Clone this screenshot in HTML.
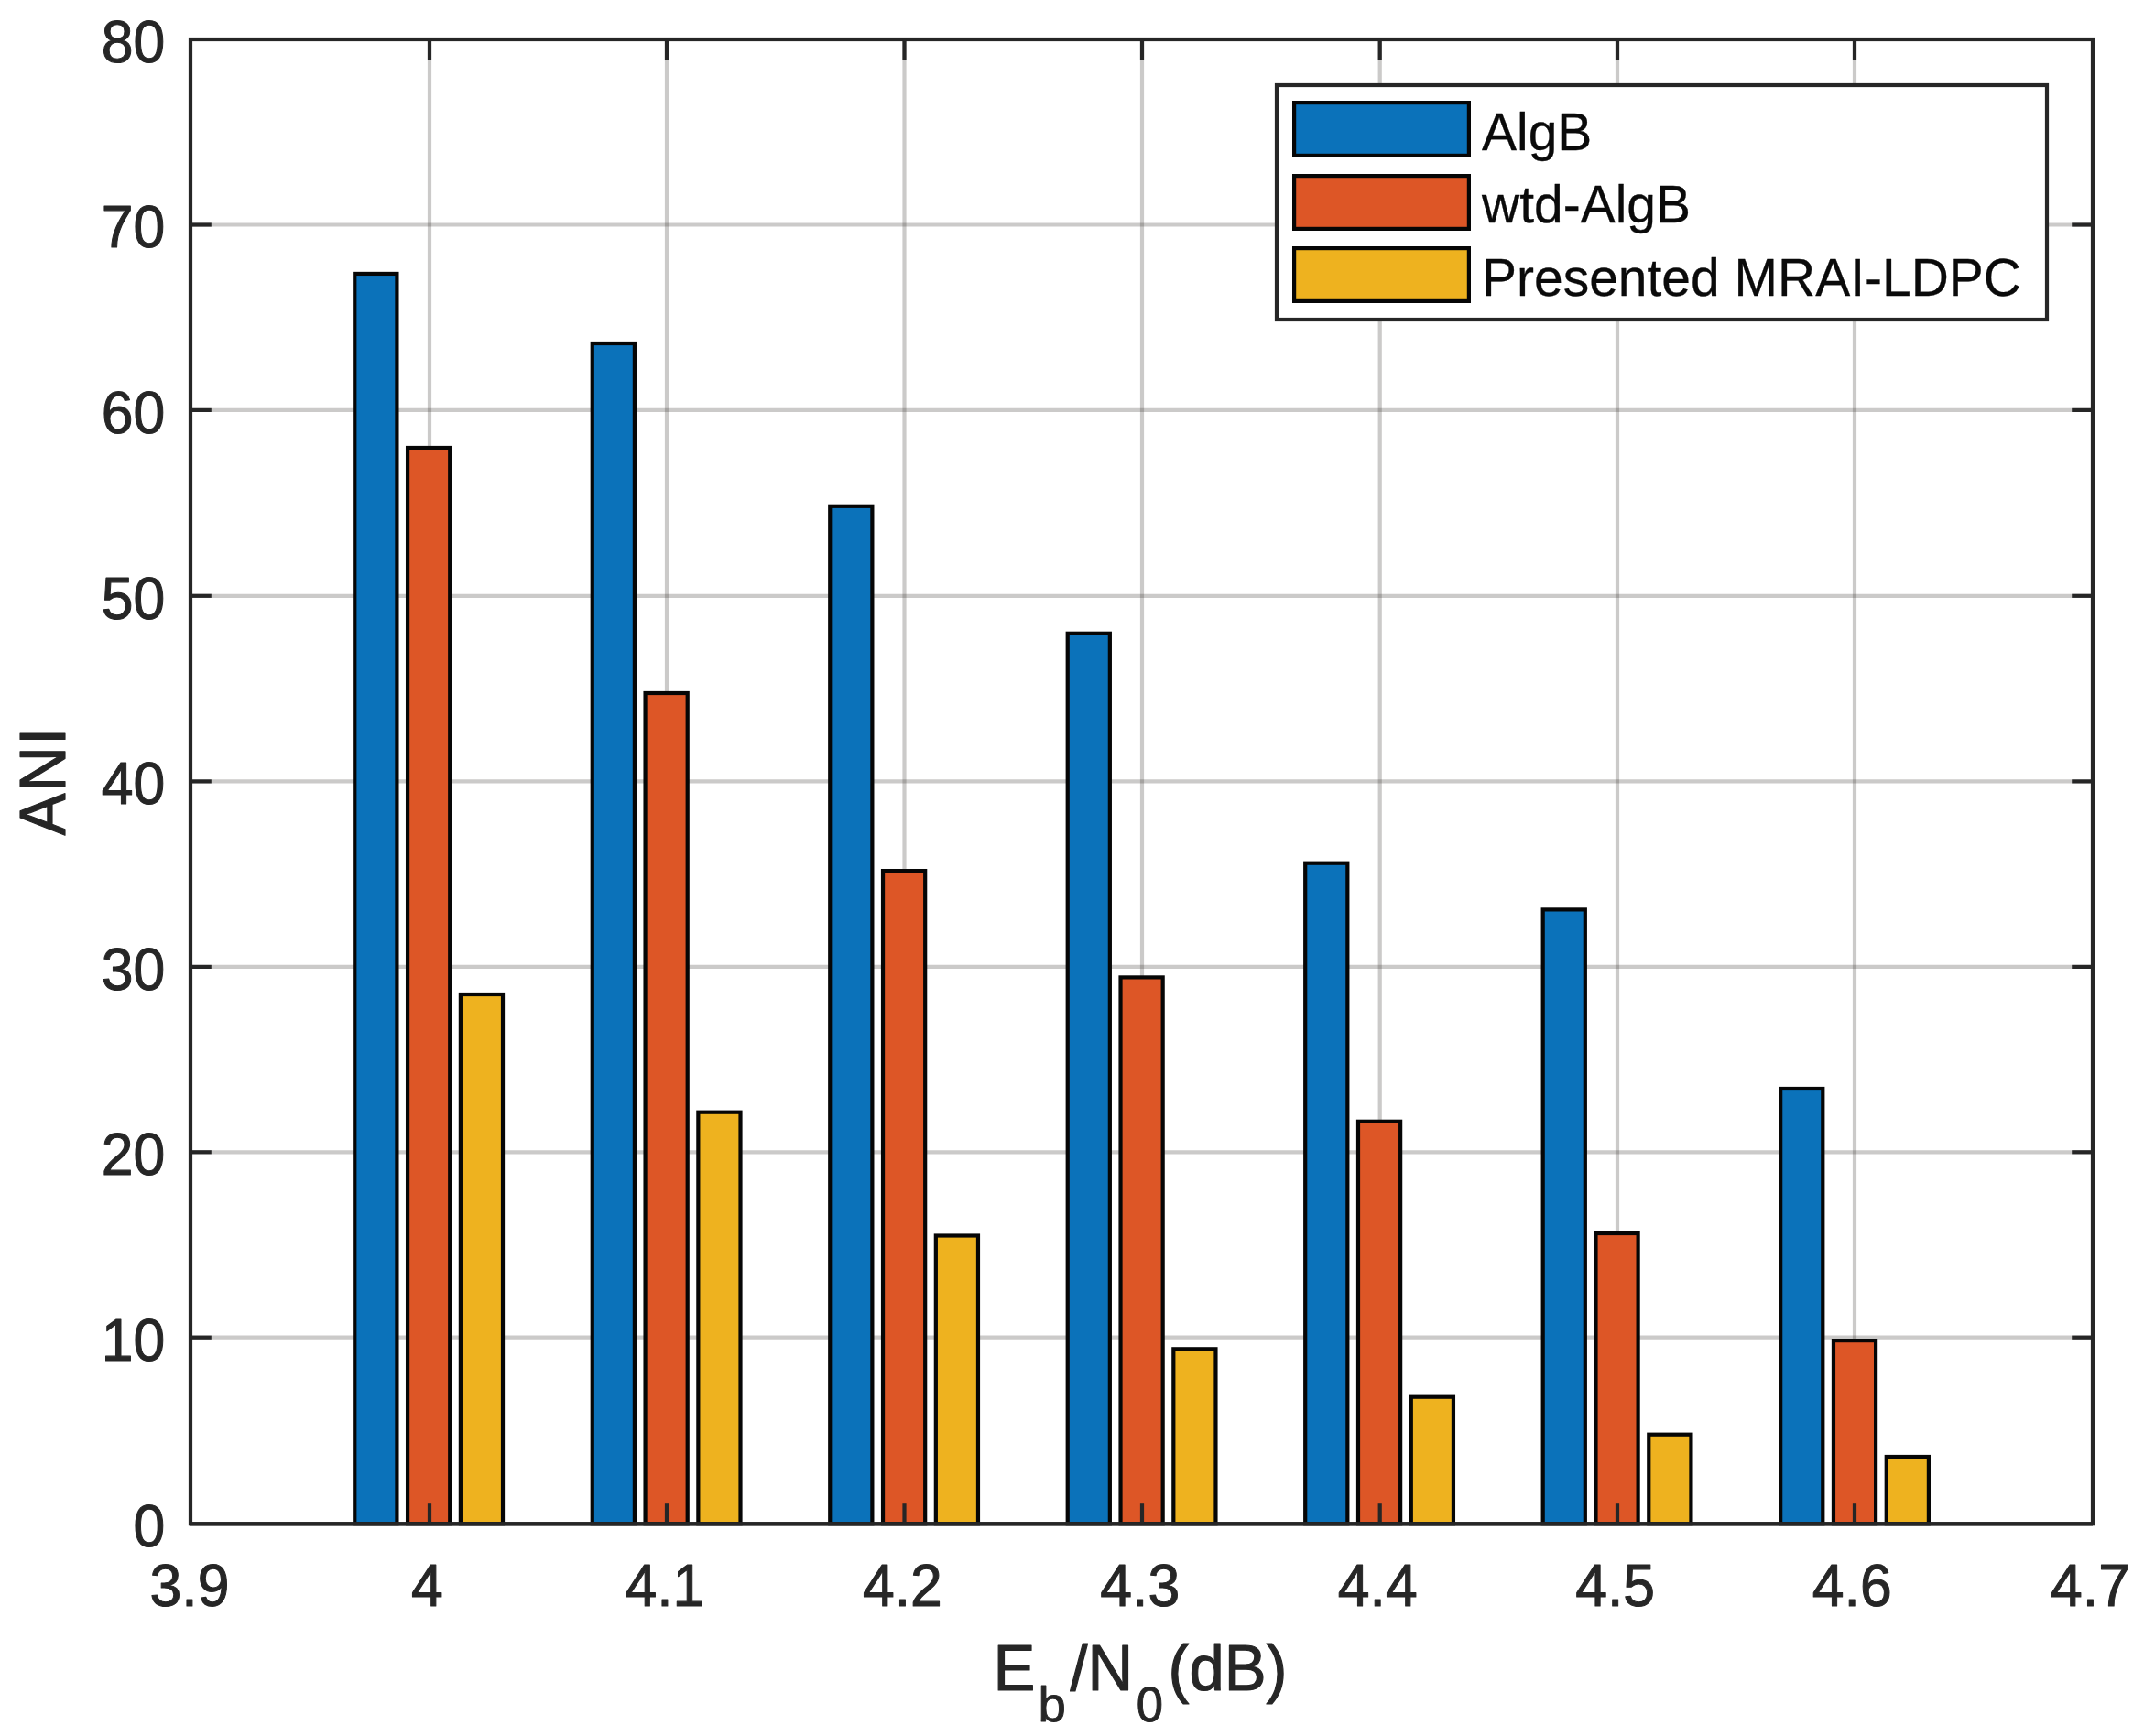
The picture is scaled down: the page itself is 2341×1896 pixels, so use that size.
<!DOCTYPE html>
<html lang="en"><head><meta charset="utf-8"><title>ANI versus Eb/N0</title>
<style>html,body{margin:0;padding:0;background:#fff}body{width:2341px;height:1896px;overflow:hidden}svg{display:block}text{font-family:"Liberation Sans", Arial, Helvetica, sans-serif;fill:#262626}</style>
</head><body>
<svg width="2341" height="1896" viewBox="0 0 2341 1896">
<rect x="0" y="0" width="2341" height="1896" fill="#ffffff"/>
<g stroke="rgba(48,42,38,0.25)" stroke-width="4.20" fill="none">
<line x1="469.00" y1="43.00" x2="469.00" y2="1664.20"/>
<line x1="728.00" y1="43.00" x2="728.00" y2="1664.20"/>
<line x1="987.50" y1="43.00" x2="987.50" y2="1664.20"/>
<line x1="1247.00" y1="43.00" x2="1247.00" y2="1664.20"/>
<line x1="1506.70" y1="43.00" x2="1506.70" y2="1664.20"/>
<line x1="1766.00" y1="43.00" x2="1766.00" y2="1664.20"/>
<line x1="2025.00" y1="43.00" x2="2025.00" y2="1664.20"/>
<line x1="208.00" y1="1460.70" x2="2285.00" y2="1460.70"/>
<line x1="208.00" y1="1258.30" x2="2285.00" y2="1258.30"/>
<line x1="208.00" y1="1055.90" x2="2285.00" y2="1055.90"/>
<line x1="208.00" y1="853.40" x2="2285.00" y2="853.40"/>
<line x1="208.00" y1="650.80" x2="2285.00" y2="650.80"/>
<line x1="208.00" y1="447.90" x2="2285.00" y2="447.90"/>
<line x1="208.00" y1="245.50" x2="2285.00" y2="245.50"/>
</g>
<g stroke="#060606" stroke-width="4.20" stroke-linejoin="miter">
<rect x="387.28" y="298.95" width="46.14" height="1365.25" fill="#0b72ba"/>
<rect x="445.08" y="489.00" width="46.14" height="1175.20" fill="#dd5626"/>
<rect x="502.88" y="1086.00" width="46.14" height="578.20" fill="#eeb21f"/>
<rect x="646.76" y="375.00" width="46.14" height="1289.20" fill="#0b72ba"/>
<rect x="704.56" y="757.00" width="46.14" height="907.20" fill="#dd5626"/>
<rect x="762.36" y="1214.70" width="46.14" height="449.50" fill="#eeb21f"/>
<rect x="906.24" y="552.80" width="46.14" height="1111.40" fill="#0b72ba"/>
<rect x="964.04" y="951.10" width="46.14" height="713.10" fill="#dd5626"/>
<rect x="1021.84" y="1349.50" width="46.14" height="314.70" fill="#eeb21f"/>
<rect x="1165.72" y="691.80" width="46.14" height="972.40" fill="#0b72ba"/>
<rect x="1223.52" y="1067.40" width="46.14" height="596.80" fill="#dd5626"/>
<rect x="1281.32" y="1473.30" width="46.14" height="190.90" fill="#eeb21f"/>
<rect x="1425.20" y="942.70" width="46.14" height="721.50" fill="#0b72ba"/>
<rect x="1483.00" y="1224.80" width="46.14" height="439.40" fill="#dd5626"/>
<rect x="1540.80" y="1525.70" width="46.14" height="138.50" fill="#eeb21f"/>
<rect x="1684.68" y="993.40" width="46.14" height="670.80" fill="#0b72ba"/>
<rect x="1742.48" y="1347.00" width="46.14" height="317.20" fill="#dd5626"/>
<rect x="1800.28" y="1566.70" width="46.14" height="97.50" fill="#eeb21f"/>
<rect x="1944.16" y="1189.00" width="46.14" height="475.20" fill="#0b72ba"/>
<rect x="2001.96" y="1464.10" width="46.14" height="200.10" fill="#dd5626"/>
<rect x="2059.76" y="1591.00" width="46.14" height="73.20" fill="#eeb21f"/>
</g>
<line x1="208.00" y1="1664.50" x2="2285.00" y2="1664.50" stroke="#1a1a1a" stroke-width="4.20"/>
<g stroke="#262626" stroke-width="4.20" fill="none" stroke-linecap="butt">
<rect x="208.00" y="43.00" width="2077.00" height="1621.20"/>
<line x1="469.00" y1="43.00" x2="469.00" y2="65.80"/>
<line x1="469.00" y1="1664.20" x2="469.00" y2="1642.20"/>
<line x1="728.00" y1="43.00" x2="728.00" y2="65.80"/>
<line x1="728.00" y1="1664.20" x2="728.00" y2="1642.20"/>
<line x1="987.50" y1="43.00" x2="987.50" y2="65.80"/>
<line x1="987.50" y1="1664.20" x2="987.50" y2="1642.20"/>
<line x1="1247.00" y1="43.00" x2="1247.00" y2="65.80"/>
<line x1="1247.00" y1="1664.20" x2="1247.00" y2="1642.20"/>
<line x1="1506.70" y1="43.00" x2="1506.70" y2="65.80"/>
<line x1="1506.70" y1="1664.20" x2="1506.70" y2="1642.20"/>
<line x1="1766.00" y1="43.00" x2="1766.00" y2="65.80"/>
<line x1="1766.00" y1="1664.20" x2="1766.00" y2="1642.20"/>
<line x1="2025.00" y1="43.00" x2="2025.00" y2="65.80"/>
<line x1="2025.00" y1="1664.20" x2="2025.00" y2="1642.20"/>
<line x1="208.00" y1="1460.70" x2="230.80" y2="1460.70"/>
<line x1="2285.00" y1="1460.70" x2="2262.20" y2="1460.70"/>
<line x1="208.00" y1="1258.30" x2="230.80" y2="1258.30"/>
<line x1="2285.00" y1="1258.30" x2="2262.20" y2="1258.30"/>
<line x1="208.00" y1="1055.90" x2="230.80" y2="1055.90"/>
<line x1="2285.00" y1="1055.90" x2="2262.20" y2="1055.90"/>
<line x1="208.00" y1="853.40" x2="230.80" y2="853.40"/>
<line x1="2285.00" y1="853.40" x2="2262.20" y2="853.40"/>
<line x1="208.00" y1="650.80" x2="230.80" y2="650.80"/>
<line x1="2285.00" y1="650.80" x2="2262.20" y2="650.80"/>
<line x1="208.00" y1="447.90" x2="230.80" y2="447.90"/>
<line x1="2285.00" y1="447.90" x2="2262.20" y2="447.90"/>
<line x1="208.00" y1="245.50" x2="230.80" y2="245.50"/>
<line x1="2285.00" y1="245.50" x2="2262.20" y2="245.50"/>
</g>
<text font-size="62.50" text-anchor="middle" transform="translate(207.00,1753.60) scale(1,1.035)" style="fill:#262626;stroke:#262626;stroke-width:1.00;stroke-linejoin:round">3.9</text>
<text font-size="62.50" text-anchor="middle" transform="translate(466.44,1753.60) scale(1,1.035)" style="fill:#262626;stroke:#262626;stroke-width:1.00;stroke-linejoin:round">4</text>
<text font-size="62.50" text-anchor="middle" transform="translate(725.88,1753.60) scale(1,1.035)" style="fill:#262626;stroke:#262626;stroke-width:1.00;stroke-linejoin:round">4.1</text>
<text font-size="62.50" text-anchor="middle" transform="translate(985.32,1753.60) scale(1,1.035)" style="fill:#262626;stroke:#262626;stroke-width:1.00;stroke-linejoin:round">4.2</text>
<text font-size="62.50" text-anchor="middle" transform="translate(1244.76,1753.60) scale(1,1.035)" style="fill:#262626;stroke:#262626;stroke-width:1.00;stroke-linejoin:round">4.3</text>
<text font-size="62.50" text-anchor="middle" transform="translate(1504.20,1753.60) scale(1,1.035)" style="fill:#262626;stroke:#262626;stroke-width:1.00;stroke-linejoin:round">4.4</text>
<text font-size="62.50" text-anchor="middle" transform="translate(1763.64,1753.60) scale(1,1.035)" style="fill:#262626;stroke:#262626;stroke-width:1.00;stroke-linejoin:round">4.5</text>
<text font-size="62.50" text-anchor="middle" transform="translate(2022.28,1753.60) scale(1,1.035)" style="fill:#262626;stroke:#262626;stroke-width:1.00;stroke-linejoin:round">4.6</text>
<text font-size="62.50" text-anchor="middle" transform="translate(2282.52,1753.60) scale(1,1.035)" style="fill:#262626;stroke:#262626;stroke-width:1.00;stroke-linejoin:round">4.7</text>
<text font-size="62.50" text-anchor="end" transform="translate(180.30,1689.00) scale(1,1.035)" style="fill:#262626;stroke:#262626;stroke-width:1.00;stroke-linejoin:round">0</text>
<text font-size="62.50" text-anchor="end" transform="translate(180.30,1485.50) scale(1,1.035)" style="fill:#262626;stroke:#262626;stroke-width:1.00;stroke-linejoin:round">10</text>
<text font-size="62.50" text-anchor="end" transform="translate(180.30,1283.10) scale(1,1.035)" style="fill:#262626;stroke:#262626;stroke-width:1.00;stroke-linejoin:round">20</text>
<text font-size="62.50" text-anchor="end" transform="translate(180.30,1080.70) scale(1,1.035)" style="fill:#262626;stroke:#262626;stroke-width:1.00;stroke-linejoin:round">30</text>
<text font-size="62.50" text-anchor="end" transform="translate(180.30,878.20) scale(1,1.035)" style="fill:#262626;stroke:#262626;stroke-width:1.00;stroke-linejoin:round">40</text>
<text font-size="62.50" text-anchor="end" transform="translate(180.30,675.60) scale(1,1.035)" style="fill:#262626;stroke:#262626;stroke-width:1.00;stroke-linejoin:round">50</text>
<text font-size="62.50" text-anchor="end" transform="translate(180.30,472.70) scale(1,1.035)" style="fill:#262626;stroke:#262626;stroke-width:1.00;stroke-linejoin:round">60</text>
<text font-size="62.50" text-anchor="end" transform="translate(180.30,270.30) scale(1,1.035)" style="fill:#262626;stroke:#262626;stroke-width:1.00;stroke-linejoin:round">70</text>
<text font-size="62.50" text-anchor="end" transform="translate(180.30,67.80) scale(1,1.035)" style="fill:#262626;stroke:#262626;stroke-width:1.00;stroke-linejoin:round">80</text>
<text font-size="68.80" text-anchor="start" transform="translate(1084.40,1846.10) scale(1,1.025)" style="fill:#262626;stroke:#262626;stroke-width:1.10;stroke-linejoin:round">E</text>
<text font-size="54.50" text-anchor="start" transform="translate(1133.60,1879.80) scale(1,0.985)" style="fill:#262626;stroke:#262626;stroke-width:0.90;stroke-linejoin:round">b</text>
<text font-size="68.80" text-anchor="start" transform="translate(1168.40,1846.10) scale(1,1.025)" style="fill:#262626;stroke:#262626;stroke-width:1.10;stroke-linejoin:round">/N</text>
<text font-size="52.50" text-anchor="start" transform="translate(1240.70,1879.80) scale(1,1.030)" style="fill:#262626;stroke:#262626;stroke-width:0.90;stroke-linejoin:round">0</text>
<text font-size="68.80" text-anchor="start" transform="translate(1275.50,1846.10) scale(1,1.025)" style="fill:#262626;stroke:#262626;stroke-width:1.10;stroke-linejoin:round">(dB)</text>
<text font-size="69" text-anchor="middle" letter-spacing="1.5" transform="translate(71.3,852.8) rotate(-90) scale(1,1.03)" style="fill:#262626;stroke:#262626;stroke-width:1.1;stroke-linejoin:round">ANI</text>
<rect x="1394" y="93" width="841" height="256" fill="#ffffff" stroke="#262626" stroke-width="4.20"/>
<rect x="1413.1" y="112.10" width="190.8" height="57.80" fill="#0b72ba" stroke="#060606" stroke-width="4.20"/>
<text font-size="57.00" text-anchor="start" transform="translate(1618.00,164.00) scale(1,1.015)" style="fill:#0a0a0a;stroke:#0a0a0a;stroke-width:0.30;stroke-linejoin:round">AlgB</text>
<rect x="1413.1" y="192.10" width="190.8" height="57.80" fill="#dd5626" stroke="#060606" stroke-width="4.20"/>
<text font-size="57.00" text-anchor="start" transform="translate(1618.00,243.20) scale(1,1.015)" style="fill:#0a0a0a;stroke:#0a0a0a;stroke-width:0.30;stroke-linejoin:round">wtd-AlgB</text>
<rect x="1413.1" y="271.10" width="190.8" height="57.80" fill="#eeb21f" stroke="#060606" stroke-width="4.20"/>
<text font-size="57.00" text-anchor="start" transform="translate(1618.00,323.10) scale(1,1.015)" style="fill:#0a0a0a;stroke:#0a0a0a;stroke-width:0.30;stroke-linejoin:round">Presented MRAI-LDPC</text>
</svg>
</body></html>
